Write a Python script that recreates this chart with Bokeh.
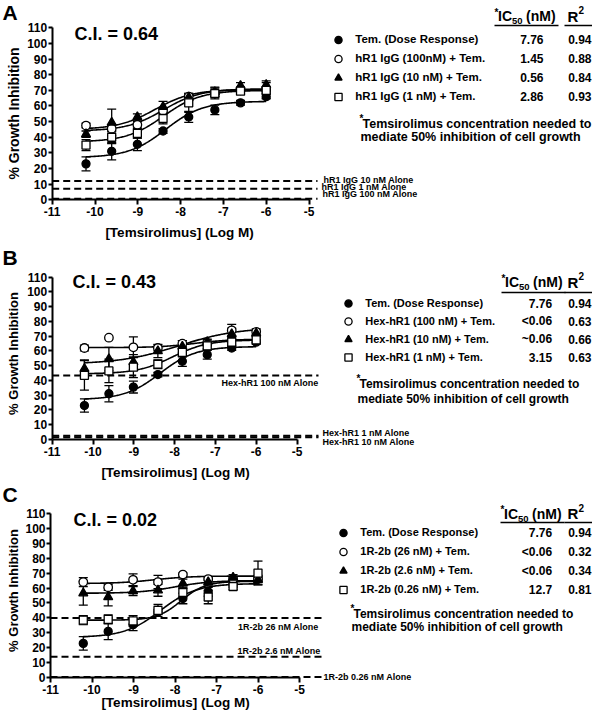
import numpy as np
from bokeh.plotting import figure
from bokeh.models import (Range1d, FixedTicker, Label, Legend, LegendItem, Whisker,
                          ColumnDataSource, TeeHead, Arrow, LinearAxis)
from bokeh.layouts import column
from bokeh.embed import file_html
from bokeh.resources import INLINE

FONT = "Liberation Sans"

# ---------------- data ----------------
log_conc = [-10.21, -9.61, -9.01, -8.41, -7.81, -7.20, -6.60, -6.00]
x_ticks = [-11, -10, -9, -8, -7, -6, -5]
x_tick_labels = ["-11", "-10", "-9", "-8", "-7", "-6", "-5"]
y_ticks = [0, 10, 20, 30, 40, 50, 60, 70, 80, 90, 100, 110]

tem_mean = [23, 31, 35.5, 44, 53, 57.5, 62, 66]
tem_err = [4.5, 5.5, 4, 1.5, 3.5, 3, 1.5, 1.5]

# Panel A: hR1 IgG
hr1_100_mean = [47.5, 45.5, 48, 57, 66, 68, 70, 70]
hr1_100_err = [1.5, 2, 2, 2, 2, 2, 2, 2]
hr1_10_mean = [42, 49.5, 53, 59.5, 65.5, 69, 73, 73.5]
hr1_10_err = [2, 8.5, 2, 3.5, 2, 3, 2, 2.5]
hr1_1_mean = [35, 40, 42.5, 52, 62, 68, 69.5, 70]
hr1_1_err = [3.5, 4, 3, 3.5, 6, 3.5, 2, 5]

# Panel B: Hex-hR1
hex_100_mean = [62, 69, 62.5, 62, 65, 65.5, 74, 73]
hex_100_err = [2, 0, 7, 2, 2, 2, 4, 2]
hex_10_mean = [48, 54.5, 52.5, 60, 63, 66, 71.5, 72]
hex_10_err = [6, 8, 5, 4.5, 4, 2, 4, 2]
hex_1_mean = [43.5, 46.5, 49, 51, 59, 63.5, 66, 67.5]
hex_1_err = [10, 8, 7, 3, 3, 2, 3, 2]

# Panel C: 1R-2b
r2b_26_mean = [64, 60.5, 65.5, 64, 69, 66, 66, 66]
r2b_26_err = [3, 2, 4, 4.5, 1, 1, 1, 2]
r2b_2_6_mean = [56.5, 54, 58, 58.5, 63, 64, 67, 65.5]
r2b_2_6_err = [8, 6, 3, 4, 3, 2, 2, 3]
r2b_0_26_mean = [38.5, 39, 38, 45, 57, 54, 61, 70]
r2b_0_26_err = [3, 3, 3.5, 4, 3, 4.5, 2, 8]

# fitted sigmoid parameters: (bottom, top, logEC50, hill)
tem_fit = (27, 63, -8.35, 1.0)
hr1_fits = [(44, 71, -8.4, 1.0), (45, 70.5, -8.6, 1.0), (37, 70, -8.4, 1.0)]
hex_fits = [(62.3, 68, -7.5, 1.0), (51, 76, -7.9, 0.6), (44.5, 67.5, -8.05, 1.0)]
r2b_fits = [(63, 68, -8.5, 1.0), (56.5, 65, -8.0, 1.0), (38.5, 64.5, -7.85, 1.5)]

# tables
names_A = ["Tem. (Dose Response)", "hR1 IgG (100nM) + Tem.", "hR1 IgG (10 nM) + Tem.", "hR1 IgG (1 nM) + Tem."]
ic50_A = ["7.76", "1.45", "0.56", "2.86"]
r2_A = ["0.94", "0.88", "0.84", "0.93"]
names_B = ["Tem. (Dose Response)", "Hex-hR1 (100 nM) + Tem.", "Hex-hR1 (10 nM) + Tem.", "Hex-hR1 (1 nM) + Tem."]
ic50_B = ["7.76", "<0.06", "~0.06", "3.15"]
r2_B = ["0.94", "0.63", "0.66", "0.63"]
names_C = ["Tem. (Dose Response)", "1R-2b (26 nM) + Tem.", "1R-2b (2.6 nM) + Tem.", "1R-2b (0.26 nM) + Tem."]
ic50_C = ["7.76", "<0.06", "<0.06", "12.7"]
r2_C = ["0.94", "0.32", "0.34", "0.81"]
ci_values = ["0.64", "0.43", "0.02"]
panel_letters = ["A", "B", "C"]

alone_names_A = ["hR1 IgG 10 nM Alone", "hR1 IgG 1 nM Alone", "hR1 IgG 100 nM Alone"]
alone_vals_A = [12, 7, 0.6]
alone_names_B = ["Hex-hR1 100 nM Alone", "Hex-hR1 1 nM Alone", "Hex-hR1 10 nM Alone"]
alone_vals_B = [43.4, 2.6, 1.5]
alone_names_C = ["1R-2b 26 nM Alone", "1R-2b 2.6 nM Alone", "1R-2b 0.26 nM Alone"]
alone_vals_C = [40, 14, 0.6]

# ---------------- layout (picture pixel positions) ----------------
FIG_W = 592
LAY_A = dict(top=0, h=240, x0=51.7, xsc=42.8, y0=199.3, ysc=1.5636, line_end=317,
             letter=(2, 11.5), ylab=(13, 113, "14px"), xlab=(179, 231.5), ci=(74, 33),
             leg_x=329.3, row0=39, pitch=19, row_font="11.5px", ic_x=543, r2_x=591,
             hdr=(494, 15.5), r_x=567, ul_y=25, foot=(359, 123.3, 13.4, "12.5px"),
             alone=[(323, 179, "left"), (321, 186, "left"), (322, 193, "left")])
LAY_B = dict(top=240, h=242, x0=51.7, xsc=40.8, y0=439, ysc=1.4755, line_end=318,
             letter=(2, 256.5), ylab=(13, 353, "13px"), xlab=(175, 472), ci=(72, 281.7),
             leg_x=339.3, row0=302.5, pitch=18, row_font="11px", ic_x=551.7, r2_x=591,
             hdr=(501, 281.7), r_x=567, ul_y=292, foot=(356, 383.3, 15, "12px"),
             alone=[(318, 382.3, "right"), (322, 432.7, "left"), (322, 441.7, "left")])
LAY_C = dict(top=482, h=228, x0=50, xsc=41.5, y0=677.3, ysc=1.4964, line_end=322,
             letter=(2, 493.5), ylab=(13, 590, "13px"), xlab=(175, 702), ci=(73, 519.3),
             leg_x=334.3, row0=532, pitch=19, row_font="11px", ic_x=551.7, r2_x=591,
             hdr=(500, 513.3), r_x=567, ul_y=522, foot=(350, 613.3, 13.4, "12px"),
             alone=[(318, 626.7, "right"), (320, 650, "right"), (323, 676.7, "left")])


def sigmoid(x, fit):
    b, t, ec, h = fit
    return b + (t - b) / (1 + 10 ** ((ec - x) * h))


def build(L, means, errs, fits, names, ic50, r2, ci, letter, alone_names, alone_vals):
    T, H = L["top"], L["h"]
    x0, xsc, y0, ysc = L["x0"], L["xsc"], L["y0"], L["ysc"]
    x_start = -11 - x0 / xsc
    x_end = -11 + (FIG_W - x0) / xsc
    y_start = -(T + H - y0) / ysc
    y_end = (y0 - T) / ysc
    p = figure(width=FIG_W, height=H, x_range=Range1d(x_start, x_end),
               y_range=Range1d(y_start, y_end), output_backend="svg",
               toolbar_location=None, x_axis_location=None, y_axis_location=None,
               min_border=0, min_border_left=0, min_border_right=0,
               min_border_top=0, min_border_bottom=0)
    p.outline_line_color = None
    p.grid.visible = False

    def txt(px, py, text, size, align="left", baseline="middle", angle=0.0):
        p.add_layout(Label(x=px, y=T + H - py, x_units="screen", y_units="screen",
                           text=text, text_font=FONT, text_font_style="bold",
                           text_font_size=size, text_color="black", text_align=align,
                           text_baseline=baseline, angle=angle))

    def rule(xa_, xb_, py):
        p.add_layout(Arrow(end=None, x_start=xa_, y_start=T + H - py, x_end=xb_,
                           y_end=T + H - py, start_units="screen", end_units="screen",
                           line_width=1.5, line_color="black"))

    # axes drawn at fixed data positions
    xa = LinearAxis(fixed_location=0, bounds=(-11, -5), ticker=FixedTicker(ticks=x_ticks))
    xa.major_label_overrides = {t: s for t, s in zip(x_ticks, x_tick_labels)}
    ya = LinearAxis(fixed_location=-11, bounds=(0, 110), ticker=FixedTicker(ticks=y_ticks))
    for ax in (xa, ya):
        ax.axis_line_width = 2
        ax.axis_line_color = "black"
        ax.major_tick_line_width = 2
        ax.major_tick_line_color = "black"
        ax.major_tick_in = 0
        ax.minor_tick_line_color = None
        ax.major_label_text_font = FONT
        ax.major_label_text_font_style = "bold"
        ax.major_label_text_font_size = "12px"
        ax.major_label_text_color = "black"
    xa.major_tick_out = 5
    xa.major_label_standoff = 2
    ya.major_tick_out = 4
    ya.major_label_standoff = 1
    p.add_layout(xa, "below")
    p.add_layout(ya, "left")

    # "alone" reference lines
    x_line_end = -11 + (L["line_end"] - x0) / xsc
    for v in alone_vals:
        p.segment(x0=-11, x1=x_line_end, y0=v, y1=v, line_color="black",
                  line_width=2, line_dash="7 4")

    # fitted curves
    xs = np.linspace(log_conc[0], log_conc[-1], 200)
    for fit in fits:
        p.line(xs, sigmoid(xs, fit), line_color="black", line_width=1.6)

    # error bars
    for m, e in zip(means, errs):
        xx = [x for x, ee in zip(log_conc, e) if ee > 0]
        lo = [mm - ee for mm, ee in zip(m, e) if ee > 0]
        hi = [mm + ee for mm, ee in zip(m, e) if ee > 0]
        src = ColumnDataSource(dict(x=xx, lo=lo, hi=hi))
        p.add_layout(Whisker(source=src, base="x", lower="lo", upper="hi",
                             dimension="height", line_color="black", line_width=1.3,
                             upper_head=TeeHead(size=9, line_width=1.3, line_color="black"),
                             lower_head=TeeHead(size=9, line_width=1.3, line_color="black")))

    # markers
    styles = [dict(marker="circle", size=8, fill_color="black"),
              dict(marker="circle", size=8.5, fill_color="white"),
              dict(marker="triangle", size=9, fill_color="black"),
              dict(marker="square", size=8, fill_color="white")]
    rends = []
    for m, st in zip(means, styles):
        r = p.scatter(log_conc, m, line_color="black", line_width=1.3, **st)
        rends.append(r)

    # legend / table rows
    pitch = L["pitch"]
    leg_bottom = L["row0"] - pitch / 2 + 4 * pitch
    legend = Legend(items=[LegendItem(label=n, renderers=[r]) for n, r in zip(names, rends)],
                    location=(L["leg_x"], T + H - leg_bottom), padding=0, spacing=0,
                    margin=0, glyph_width=18, glyph_height=pitch, label_height=pitch,
                    label_standoff=8, border_line_color=None, background_fill_alpha=0,
                    label_text_font=FONT, label_text_font_style="bold",
                    label_text_font_size=L["row_font"], label_text_color="black")
    p.add_layout(legend)
    for i in range(4):
        ry = L["row0"] + i * pitch
        txt(L["ic_x"], ry, ic50[i], "12px", align="right")
        txt(L["r2_x"], ry, r2[i], "12px", align="right")

    # header
    hx, hy = L["hdr"]
    txt(hx, hy - 4, "*", "10px")
    txt(hx + 3.5, hy, "IC", "14px")
    txt(hx + 17.5, hy + 5, "50", "9.5px")
    txt(hx + 31.5, hy, "(nM)", "14px")
    txt(L["r_x"], hy, "R", "15px")
    txt(L["r_x"] + 11, hy - 6, "2", "10px")
    rule(hx, hx + 64, L["ul_y"])
    rule(L["r_x"] - 3, L["r_x"] + 25, L["ul_y"])

    # footnote
    fx, fy, fdy, fsz = L["foot"]
    txt(fx, fy - 5, "*", "10px")
    txt(fx + 3, fy, "Temsirolimus concentration needed to", fsz)
    txt(fx + 1, fy + fdy, "mediate 50% inhibition of cell growth", fsz)

    # alone labels
    for (ax_, ay_, al), n in zip(L["alone"], alone_names):
        txt(ax_, ay_, n, "9px", align=al)

    # C.I., panel letter, axis titles
    txt(L["ci"][0], L["ci"][1], "C.I. = " + ci, "18px")
    txt(L["letter"][0], L["letter"][1], letter, "21px")
    txt(L["ylab"][0], L["ylab"][1], "% Growth Inhibition", L["ylab"][2],
        align="center", angle=np.pi / 2)
    txt(L["xlab"][0], L["xlab"][1], "[Temsirolimus] (Log M)", "13.5px", align="center")
    return p


pA = build(LAY_A, [tem_mean, hr1_100_mean, hr1_10_mean, hr1_1_mean],
           [tem_err, hr1_100_err, hr1_10_err, hr1_1_err], [tem_fit] + hr1_fits,
           names_A, ic50_A, r2_A, ci_values[0], panel_letters[0], alone_names_A, alone_vals_A)
pB = build(LAY_B, [tem_mean, hex_100_mean, hex_10_mean, hex_1_mean],
           [tem_err, hex_100_err, hex_10_err, hex_1_err], [tem_fit] + hex_fits,
           names_B, ic50_B, r2_B, ci_values[1], panel_letters[1], alone_names_B, alone_vals_B)
pC = build(LAY_C, [tem_mean, r2b_26_mean, r2b_2_6_mean, r2b_0_26_mean],
           [tem_err, r2b_26_err, r2b_2_6_err, r2b_0_26_err], [tem_fit] + r2b_fits,
           names_C, ic50_C, r2_C, ci_values[2], panel_letters[2], alone_names_C, alone_vals_C)

layout = column(pA, pB, pC, spacing=0)
open("out.html", "w").write(file_html(layout, INLINE))
